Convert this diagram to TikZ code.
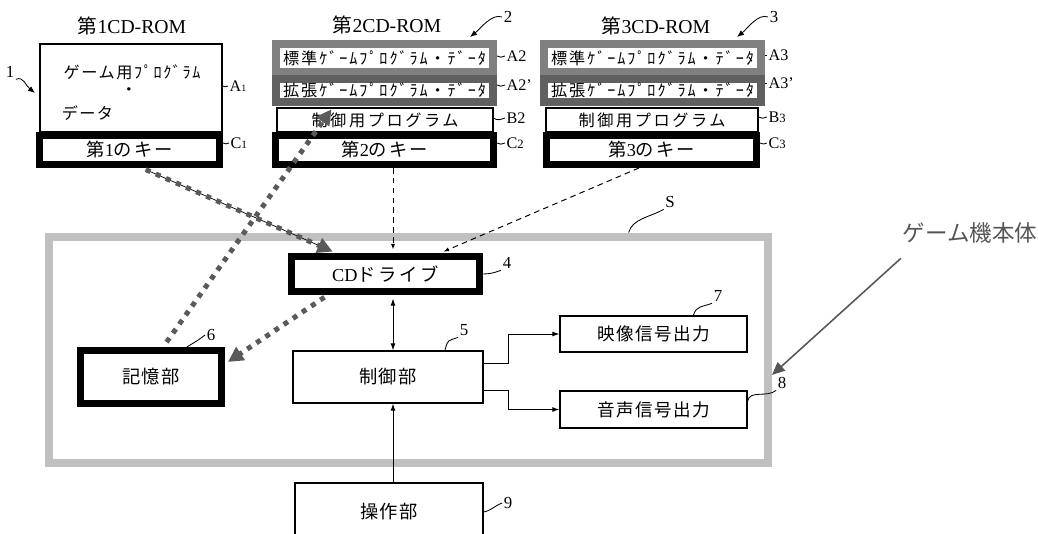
\documentclass[tikz,border=0pt]{standalone}
\usepackage{fontspec}
\setmainfont{Liberation Serif}
\newfontfamily\jp{Noto Sans CJK JP}
\usepackage{xcolor}
\usepackage{tikz}
\usetikzlibrary{arrows.meta,fit,positioning}

\definecolor{framegray}{HTML}{C0C0C0}
\definecolor{stdgray}{HTML}{808080}
\definecolor{extgray}{HTML}{606060}
\definecolor{dotgray}{HTML}{5A5A5A}
\definecolor{notegray}{HTML}{555555}

% japanese text with tracking
\newcommand\jpt[2]{{\jp\addfontfeatures{LetterSpace=#2}#1}}

\begin{document}
\begin{tikzpicture}[x=0.025cm,y=-0.025cm,
    box/.style={draw,inner sep=0pt,line width=0.8pt},
    keybox/.style={draw,inner sep=0pt,line width=0.175cm},
    stdbox/.style={draw=stdgray,inner sep=0pt,line width=0.2cm},
    extbox/.style={draw=extgray,inner sep=0pt,line width=0.2cm},
    romtitle/.style={font=\fontsize{14}{14}\selectfont},
    jtext/.style={font=\fontsize{11.5}{12}\selectfont},
    ktext/.style={font=\fontsize{13}{13}\selectfont},
    mtext/.style={font=\fontsize{12.5}{13}\selectfont},
    btext/.style={font=\fontsize{13}{13}\selectfont},
    lab/.style={inner sep=1pt,anchor=west,font=\fontsize{11.5}{12}\selectfont},
    num/.style={inner sep=1pt,font=\fontsize{12}{12}\selectfont},
    lead/.style={line width=0.6pt},
    numarrow/.style={line width=0.6pt,-{Latex[length=5pt,width=4pt]}},
    dotarrow/.style={dotgray,line width=0.125cm,dash pattern=on 0.125cm off 0.15cm,
      -{Triangle[length=0.38cm,width=0.38cm]}},
    keyline/.style={line width=0.7pt,dash pattern=on 4pt off 3pt,
      -{Latex[length=4pt,width=3pt]}},
    sig/.style={line width=0.7pt,-{Latex[length=5pt,width=3.5pt]}}]

      \useasboundingbox (0,0) rectangle (1038,533);
      \clip (0,0) rectangle (1038,533);

      % first CD-ROM
      \node[romtitle] (rom1) at (132,26) {{\jp 第}1CD-ROM};
      \node[box, fit={(40,44) (222,132)}] (a1) {};
      \node[jtext] (a1prog) at (132,72) {\jpt{ゲーム用ﾌﾟﾛｸﾞﾗﾑ}{10}};
      \node[jtext] (a1dot) at (129,92) {\jp ・};
      \node[jtext, anchor=west] (a1data) at (57,113) {\jpt{データ}{8}};
      \node[keybox, fit={(39.5,135.5) (219.5,164.5)},
            label={[ktext]center:{\jp 第}1\jpt{のキー}{10}}] (key1) {};

      % second CD-ROM
      \node[romtitle] (rom2) at (387,25) {{\jp 第}2CD-ROM};
      \node[stdbox, fit={(276,44) (493,72)},
            label={[jtext]center:\jpt{標準ｹﾞｰﾑﾌﾟﾛｸﾞﾗﾑ・ﾃﾞｰﾀ}{12}}] (a2) {};
      \node[extbox, fit={(276,79) (493,102)},
            label={[jtext]center:\jpt{拡張ｹﾞｰﾑﾌﾟﾛｸﾞﾗﾑ・ﾃﾞｰﾀ}{12}}] (a2x) {};
      \node[box, fit={(277,108) (493,132)},
            label={[jtext]center:\jpt{制御用プログラム}{16}}] (b2) {};
      \node[keybox, fit={(275.5,135.5) (493.5,164.5)},
            label={[ktext]center:{\jp 第}2\jpt{のキー}{10}}] (key2) {};

      % third CD-ROM
      \node[romtitle] (rom3) at (656,26) {{\jp 第}3CD-ROM};
      \node[stdbox, fit={(544,44) (761,72)},
            label={[jtext]center:\jpt{標準ｹﾞｰﾑﾌﾟﾛｸﾞﾗﾑ・ﾃﾞｰﾀ}{12}}] (a3) {};
      \node[extbox, fit={(544,79) (761,102)},
            label={[jtext]center:\jpt{拡張ｹﾞｰﾑﾌﾟﾛｸﾞﾗﾑ・ﾃﾞｰﾀ}{12}}] (a3x) {};
      \node[box, fit={(546,108) (758,132)},
            label={[jtext]center:\jpt{制御用プログラム}{16}}] (b3) {};
      \node[keybox, fit={(546.5,135.5) (756.5,164.5)},
            label={[ktext]center:{\jp 第}3\jpt{のキー}{10}}] (key3) {};

      \node[lab] (la1) at (228,86) {A{\fontsize{7}{7}\selectfont 1}};
      \node[lab] (lc1) at (229,143) {C{\fontsize{8}{8}\selectfont 1}};
      \node[lab] (la2) at (505,56) {A2};
      \node[lab] (la2x) at (505,85) {A2'};
      \node[lab] (lb2) at (505,118) {B2};
      \node[lab] (lc2) at (505,143) {C{\fontsize{9}{9}\selectfont 2}};
      \node[lab] (la3) at (767,55) {A3};
      \node[lab] (la3x) at (767,83) {A3'};
      \node[lab] (lb3) at (767,117) {B{\fontsize{9}{9}\selectfont 3}};
      \node[lab] (lc3) at (767,143) {C{\fontsize{9}{9}\selectfont 3}};

      \foreach \b/\l in {a1/la1,key1/lc1,a2/la2,a2x/la2x,b2/lb2,key2/lc2,
                         a3/la3,a3x/la3x,b3/lb3,key3/lc3}
        \draw[lead] (\b.east |- \l.west) to[out=-40,in=200] (\l.west);

      \node[num] (n1) at (10,72) {1};
      \node[num] (n2) at (508,17) {2};
      \node[num] (n3) at (774,17) {3};
      \coordinate (d1) at (35,93);
      \coordinate (d2) at (470,37);
      \coordinate (d3) at (737,37);
      \draw[numarrow] (n1.south east) .. controls +(8,-3) and +(-10,-8) .. (d1);
      \draw[numarrow] (n2.west) .. controls +(-10,-4) and +(10,-8) .. (d2);
      \draw[numarrow] (n3.west) .. controls +(-10,-4) and +(10,-8) .. (d3);

      % game machine body
      \node[draw=framegray, line width=0.2cm, inner sep=0pt,
            fit={(49,236.5) (768,462.5)}] (body) {};
      \node[num] (ns) at (670,202) {S};
      \draw[lead] (body.28) .. controls +(4,-14) and +(-14,8) .. (ns.south west);

      \node[keybox, fit={(291.5,256.5) (479.5,291.5)},
            label={[btext]center:CD\jpt{ドライブ}{15}}] (drive) {};
      \node[keybox, fit={(80.5,350.5) (221.5,403.5)},
            label={[btext]center:\jpt{記憶部}{5}}] (mem) {};
      \node[box, fit={(293,351) (483,403)},
            label={[btext]center:\jpt{制御部}{5}}] (ctrl) {};
      \node[box, fit={(560,316) (747,352)},
            label={[mtext]center:\jpt{映像信号出力}{8}}] (video) {};
      \node[box, fit={(560,391) (747,428)},
            label={[mtext]center:\jpt{音声信号出力}{8}}] (audio) {};
      \node[box, fit={(295,483) (483,541)},
            label={[btext]center:\jpt{操作部}{5}}] (ops) {};

      \node[num] (n4) at (507,263) {4};
      \node[num] (n5) at (464,330) {5};
      \node[num] (n6) at (211,335) {6};
      \node[num] (n7) at (718,296) {7};
      \node[num] (n8) at (782,383) {8};
      \node[num] (n9) at (508,503) {9};

      \draw[lead] (drive.east) to[out=0,in=200] (n4.south west);
      \draw[lead] (ctrl.25) .. controls +(3,-12) and +(-10,4) .. (n5.south west);
      \draw[lead] (mem.40) .. controls +(10,-6) and +(-8,6) .. (n6.west);
      \draw[lead] (video.25) .. controls +(3,-10) and +(-10,4) .. (n7.south west);
      \draw[lead] (audio.5) to[out=80,in=220] (n8.south west);
      \draw[lead] (ops.east) to[out=10,in=200] (n9.west);

      \coordinate (spine) at (393,0);
      \path[keyline, shorten >=2.5pt]
      (key2.south -| spine) edge (drive.north -| spine)
      (key3.235) edge (drive.21) ;

      \draw[sig, {Latex[length=5pt,width=3.5pt]}-{Latex[length=5pt,width=3.5pt]},
            shorten <=2.5pt] (drive.south -| spine) -- (ctrl.north -| spine);
      \draw[sig] (ops.north -| spine) -- (ctrl.south -| spine);
      \draw[sig] (ctrl.8) -- ++(25,0) |- (video.west);
      \draw[sig] (ctrl.-8) -- ++(25,0) |- (audio.west);

      % data transfer
      \draw[line width=0.5pt, shorten <=0.1cm, shorten >=0.3cm] (key1.-55) -- (drive.157);
      \draw[dotarrow, shorten <=0.1cm, shorten >=0.09cm] (key1.-55) -- (drive.157);
      \draw[dotarrow, shorten <=0.15cm, shorten >=0.1cm] (mem.68) -- (a2x.197);
      \draw[dotarrow, shorten <=0.1cm, shorten >=0.09cm] (drive.200) -- (mem.10);

      \node[font=\jp\fontsize{16}{16}\selectfont, text=notegray] (main) at (970,233) {ゲーム機本体};
      \draw[notegray, line width=1.1pt, -{Triangle[length=0.32cm,width=0.28cm]}]
      ([shift={(3,10)}]main.south west) -- (body.-4);

\end{tikzpicture}
\end{document}
